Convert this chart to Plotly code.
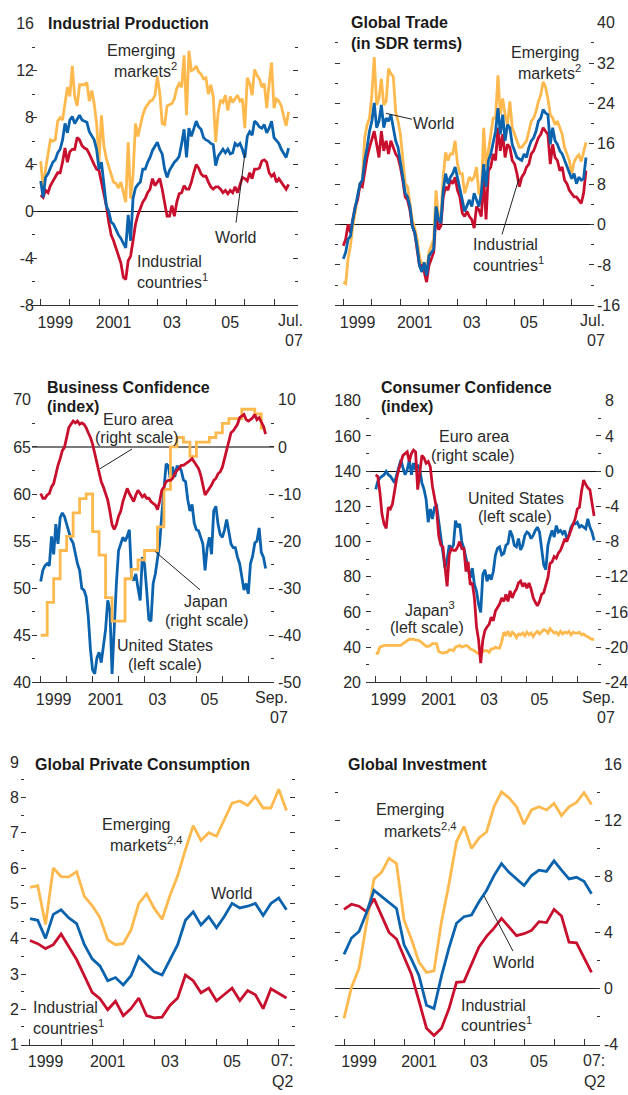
import plotly.graph_objects as go

W, H = 628, 1095
FONT = "Liberation Sans, Arial, Helvetica, sans-serif"
FS = 16
TXT = "#2a2a2a"
AXC = "#333333"
YEL = "#FDB94D"
BLU = "#0B63AE"
RED = "#C8102E"

# ---------------- Industrial production (monthly, Jan 1999 - Jul 2007)
ip_emerging = [4.3, 2.0, 3.6, 5.0, 6.1, 6.0, 6.1, 7.7, 8.0, 7.8, 9.2, 10.6,
               9.8, 12.4, 9.8, 9.0, 10.8, 10.8, 10.8, 11.0, 9.4, 10.3, 9.2, 7.5,
               4.2, 8.2, 5.6, 4.5, 3.8, 3.1, 2.5, 2.4, 2.0, 2.5, 1.7, 0.8,
               5.9, 1.1, 3.1, 7.5, 6.4, 7.3, 8.2, 8.8, 9.1, 9.4, 9.5, 9.9,
               11.5, 10.1, 7.5, 7.4, 9.0, 9.1, 9.2, 9.6, 10.5, 10.9, 10.6, 13.3,
               8.2, 13.7, 12.0, 12.1, 12.4, 11.9, 11.7, 11.3, 11.4, 10.0, 10.8, 9.8,
               5.9, 8.4, 9.5, 9.3, 9.9, 8.6, 9.8, 9.3, 9.6, 9.9, 9.4, 9.6,
               7.1, 11.4, 10.9, 9.9, 12.1, 11.6, 11.3, 10.6, 10.9, 8.8, 10.9, 12.7,
               8.8, 9.6, 9.4, 9.0, 8.1, 7.3, 8.5]
ip_world = [2.6, 1.2, 2.9, 3.2, 3.7, 4.2, 4.4, 5.0, 5.3, 6.1, 7.5, 6.7,
            7.8, 8.1, 7.5, 7.8, 8.2, 7.8, 7.7, 7.6, 6.8, 6.5, 6.1, 5.3,
            3.6, 4.2, 2.2, 0.5, 0.0, -0.9, -1.1, -1.6, -2.0, -2.3, -2.7, -3.1,
            -0.3, -2.5, 1.1, 2.0, 2.3, 2.5, 3.6, 3.6, 4.2, 4.6, 5.2, 5.6,
            5.9, 5.3, 4.9, 3.6, 2.9, 3.5, 3.9, 4.2, 4.4, 4.7, 5.8, 7.0,
            4.6, 7.1, 6.4, 7.0, 7.7, 7.2, 7.0, 6.3, 6.1, 6.0, 5.8, 5.7,
            3.9, 4.7, 5.0, 5.3, 5.0, 5.3, 4.9, 5.0, 5.8, 5.6, 5.8, 5.3,
            4.6, 6.4, 6.8, 6.5, 7.7, 7.5, 7.2, 7.1, 7.4, 6.7, 7.1, 7.7,
            6.3, 6.0, 5.8, 5.3, 5.0, 4.6, 5.4]
ip_industrial = [1.4, 1.2, 1.8, 1.6, 2.2, 2.6, 3.0, 3.3, 3.3, 4.2, 5.4, 4.2,
                 5.1, 5.3, 5.3, 6.3, 6.1, 5.6, 5.4, 5.3, 4.9, 4.4, 4.0, 3.6,
                 3.5, 2.5, 1.6, 0.5, -0.9, -2.0, -2.5, -3.1, -3.7, -4.4, -5.6, -5.8,
                 -4.2, -3.8, -2.5, -1.1, -0.3, 0.3, 0.8, 1.1, 1.6, 1.9, 2.8, 2.2,
                 2.5, 2.8, 1.9, 0.8, -0.4, -0.4, 0.5, -0.4, 0.8, 1.5, 1.6, 2.2,
                 1.9, 1.9, 2.5, 3.3, 4.0, 3.7, 3.2, 3.0, 3.0, 2.5, 2.1, 1.9,
                 2.1, 2.1, 1.9, 1.6, 1.8, 1.5, 1.8, 1.6, 2.1, 1.6, 2.2, 2.9,
                 2.8, 2.6, 3.3, 2.8, 3.6, 3.6, 3.7, 4.3, 4.4, 4.2, 3.3, 3.0,
                 3.2, 2.5, 2.8, 2.5, 2.2, 1.9, 2.3]

# ---------------- Global trade in SDR terms (monthly, Jan 1999 - Jul 2007)
tr_emerging = [-11.4, -11.7, -6.8, -4.2, -0.3, 2.3, 4.9, 8.1, 8.8, 17.2, 19.8, 21.1,
               25.7, 33.2, 23.7, 25.0, 28.9, 23.7, 24.4, 30.9, 29.9, 29.3, 22.4, 20.5,
               17.9, 12.7, 8.1, 7.5, 4.6, 1.0, -0.7, -2.9, -6.2, -8.1, -7.5, -9.4,
               -5.5, -4.2, -2.9, 6.8, 1.0, 1.6, 9.4, 14.3, 12.7, 14.0, 14.0, 16.6,
               12.0, 10.1, 10.1, 6.2, 8.1, 9.4, 8.8, 9.4, 11.4, 6.2, 5.5, 19.2,
               11.4, 14.6, 17.9, 21.1, 21.1, 29.6, 21.8, 25.0, 21.8, 19.8, 24.4, 19.2,
               17.9, 16.6, 15.3, 15.3, 15.9, 16.6, 18.5, 20.5, 21.1, 22.4, 24.4, 25.7,
               28.3, 27.3, 25.0, 21.8, 21.1, 19.8, 20.5, 19.2, 17.9, 15.3, 14.0, 12.7,
               10.1, 12.4, 13.3, 13.8, 12.5, 14.5, 16.3]
tr_world = [-6.8, -5.5, -2.9, -2.3, 1.0, 3.6, 5.5, 8.1, 8.8, 12.7, 15.3, 18.5,
            20.5, 24.1, 19.2, 20.5, 23.7, 19.2, 21.1, 20.5, 21.8, 19.2, 16.6, 15.3,
            12.7, 9.4, 6.2, 5.5, 3.6, -0.3, -1.6, -4.2, -8.1, -9.4, -7.5, -10.1,
            -6.2, -5.5, -4.9, 3.6, 1.0, 0.3, 6.8, 10.1, 8.1, 9.4, 10.1, 11.4,
            9.4, 7.5, 4.9, 2.6, 3.9, 4.9, 3.6, 6.2, 4.9, 3.6, 6.2, 12.0,
            7.5, 12.7, 14.0, 16.6, 18.5, 23.1, 17.9, 21.8, 16.6, 19.8, 19.2, 15.9,
            14.6, 13.3, 13.0, 12.7, 14.0, 13.3, 15.3, 16.6, 17.2, 18.5, 20.5, 21.1,
            22.8, 22.1, 21.8, 15.9, 19.2, 16.6, 15.9, 14.6, 14.0, 12.7, 11.4, 10.1,
            9.1, 10.1, 8.1, 9.4, 8.8, 9.1, 13.3]
tr_industrial = [-4.2, -2.9, 0.0, -1.6, 1.0, 3.6, 4.9, 7.8, 7.5, 10.7, 13.3, 15.3,
                 17.2, 18.5, 15.9, 13.3, 18.5, 14.6, 16.6, 14.0, 16.6, 15.3, 14.0, 13.3,
                 11.4, 8.8, 5.5, 4.9, 2.9, -0.3, -1.6, -4.9, -8.1, -8.1, -9.4, -11.4,
                 -8.1, -6.8, -5.5, 2.3, -1.0, -0.3, 5.5, 7.5, 6.8, 8.8, 8.1, 9.4,
                 6.8, 5.5, 2.3, 1.6, 2.6, 1.6, 1.0, -0.7, 3.6, 2.9, 1.6, 9.4,
                 1.0, 10.7, 11.4, 14.0, 12.7, 19.2, 14.6, 17.9, 13.3, 15.9, 15.3, 12.7,
                 12.0, 10.1, 7.5, 9.4, 10.1, 11.4, 12.0, 14.0, 14.6, 15.9, 17.2, 17.9,
                 19.2, 18.5, 17.9, 12.0, 15.9, 13.3, 12.7, 10.7, 11.4, 8.8, 8.1, 6.8,
                 6.2, 5.5, 5.5, 4.9, 4.2, 6.2, 10.7]

# ---------------- Business confidence (monthly, Jan 1999 - Sep 2007)
bc_euro = [-9.9, -10.9, -10.9, -10.2, -9.9, -8.5, -7.8, -5.7, -3.9, -2.5, -0.8, -0.1,
           2.0, 4.1, 4.8, 5.5, 5.1, 5.5, 4.8, 5.1, 4.8, 4.1, 3.0, 2.0,
           0.6, -1.5, -3.9, -5.7, -7.4, -8.5, -9.9, -11.3, -13.7, -16.5, -17.5, -16.5,
           -14.7, -13.7, -11.6, -10.2, -8.8, -9.9, -10.9, -11.6, -10.2, -9.2, -9.9, -10.6,
           -10.2, -10.9, -10.9, -11.6, -12.0, -12.3, -13.3, -11.6, -9.2, -8.5, -7.4, -7.1,
           -7.1, -6.7, -5.7, -5.0, -4.6, -3.9, -3.9, -3.6, -3.2, -2.9, -2.5, -3.2,
           -3.9, -4.6, -6.0, -7.8, -10.2, -9.5, -8.8, -8.1, -7.1, -6.7, -5.7, -5.3,
           -4.3, -2.5, -0.8, 1.6, 3.0, 3.4, 4.1, 4.8, 6.2, 6.5, 6.9, 5.8,
           5.5, 5.8, 6.2, 6.9, 5.8, 6.2, 5.1, 4.4, 2.7]
bc_us = [50.7, 51.9, 52.4, 52.6, 52.4, 55.5, 53.6, 56.8, 54.7, 57.5, 58.0, 57.6,
         56.8, 56.1, 55.2, 54.8, 53.6, 52.6, 51.9, 50.0, 49.8, 49.1, 47.0, 43.5,
         41.3, 40.9, 42.6, 43.2, 42.1, 44.2, 45.6, 48.7, 47.7, 40.9, 46.0, 50.5,
         54.0, 54.7, 55.4, 55.0, 55.5, 56.2, 51.2, 50.8, 51.5, 50.0, 48.7, 53.3,
         52.6, 49.8, 46.7, 46.5, 50.5, 51.5, 52.9, 54.7, 57.8, 60.2, 63.2, 63.0,
         61.5, 62.9, 61.8, 62.9, 62.9, 62.5, 61.5, 61.3, 59.4, 58.2, 58.9, 56.9,
         56.2, 56.1, 55.4, 54.7, 51.9, 54.3, 55.4, 53.6, 58.2, 58.7, 56.8, 55.7,
         55.4, 56.2, 57.3, 56.1, 54.7, 54.3, 54.3, 53.3, 52.6, 51.2, 49.8, 50.5,
         49.4, 52.6, 53.4, 54.8, 55.0, 56.4, 53.8, 53.3, 52.1]
# Japan Tankan (quarterly, 1999Q1 - 2007Q3)
bc_japan_q = [-40, -33, -28, -22, -19, -14, -11, -10, -18, -23, -32, -37,
              -37, -28, -26, -24, -22, -22, -17, -9, 0, 2, 1, -2,
              1, 1, 2, 3, 5, 6, 6, 8, 8, 7, 4]

# ---------------- Consumer confidence (monthly, Jan 1999 - Sep 2007)
cc_euro = [-0.4, -0.6, -2.4, -4.9, -6.0, -6.5, -4.1, -4.3, -3.7, -2.1, -0.8, 0.2,
           0.9, 1.8, 2.0, 2.2, 1.1, 2.0, 2.4, 2.2, -2.1, 0.2, 1.8, 1.5,
           0.9, 1.1, 0.5, -1.7, -2.8, -4.3, -7.3, -8.4, -8.6, -10.6, -13.1, -9.5,
           -8.8, -9.0, -9.0, -8.6, -8.0, -8.8, -8.8, -11.4, -10.3, -12.9, -12.7, -14.4,
           -17.7, -19.2, -21.8, -19.2, -18.1, -17.7, -17.4, -16.6, -17.0, -15.9, -15.5, -15.1,
           -14.4, -14.8, -14.0, -14.8, -13.6, -14.4, -13.8, -13.4, -12.7, -12.5, -13.1, -12.7,
           -13.3, -12.7, -13.4, -14.4, -14.9, -15.3, -14.8, -14.0, -13.8, -12.9, -12.1, -10.5,
           -10.3, -9.7, -9.9, -9.3, -9.0, -8.4, -7.7, -8.0, -7.3, -6.7, -6.0, -5.4,
           -4.3, -4.1, -2.3, -1.0, -1.5, -1.9, -2.1, -3.4, -5.1]
cc_us = [129.7, 134.3, 136.2, 137.1, 138.0, 139.9, 138.0, 137.1, 135.2, 133.4, 138.0, 141.8,
         146.4, 141.8, 138.0, 140.8, 146.4, 138.0, 144.6, 140.8, 143.6, 140.8, 133.4, 129.7,
         124.1, 111.0, 118.5, 112.9, 119.4, 120.3, 111.9, 101.7, 92.4, 84.9, 89.6, 97.9,
         96.1, 97.9, 111.9, 108.2, 110.1, 99.8, 96.1, 90.5, 83.0, 79.3, 84.9, 75.6,
         71.8, 64.4, 59.7, 81.2, 84.0, 77.4, 81.2, 78.4, 83.0, 92.4, 96.1, 97.0,
         92.4, 93.3, 97.9, 98.9, 106.3, 103.5, 97.9, 97.0, 101.7, 95.2, 97.9, 103.5,
         105.4, 104.5, 101.7, 103.5, 106.3, 108.2, 105.4, 95.2, 86.8, 84.0, 97.9, 102.6,
         106.3, 102.6, 109.1, 105.4, 106.3, 104.5, 106.3, 101.7, 103.5, 108.2, 110.1, 110.1,
         111.0, 108.2, 109.1, 108.2, 107.3, 112.9, 108.2, 105.4, 100.7]
cc_japan = [36.5, 36.5, 40.0, 40.5, 41.0, 41.0, 41.0, 41.0, 41.0, 41.0, 41.0, 41.0,
            41.0, 42.0, 43.0, 44.0, 44.5, 44.5, 44.5, 44.0, 44.0, 43.5, 42.5, 42.0,
            40.5, 40.5, 41.0, 42.0, 42.0, 42.0, 37.5, 37.0, 36.5, 37.0, 37.0, 38.5,
            38.5, 38.0, 40.0, 40.5, 41.0, 40.0, 40.5, 41.0, 40.5, 39.0, 38.5, 38.0,
            37.0, 36.5, 37.5, 37.5, 38.0, 38.0, 37.0, 39.0, 39.0, 40.0, 39.5, 39.5,
            43.0, 48.5, 47.0, 49.0, 46.0, 48.5, 47.5, 45.5, 47.5, 47.0, 48.0, 46.5,
            48.5, 47.0, 48.0, 46.0, 48.0, 49.0, 47.5, 48.5, 50.0, 49.5, 48.0, 50.5,
            49.5, 48.0, 48.5, 47.0, 49.0, 47.5, 48.5, 48.0, 49.0, 47.0, 48.5, 48.0,
            48.0, 48.5, 47.0, 47.5, 46.5, 46.0, 45.0, 44.5, 44.5]

# ---------------- Global private consumption (quarterly, 1999Q1 - 2007Q2)
pc_emerging = [5.45, 5.5, 4.4, 6.0, 5.76, 5.75, 5.9, 5.2, 4.94, 4.6, 3.97, 3.83,
               3.86, 4.25, 5.0, 5.27, 4.85, 4.55, 5.22, 5.78, 6.52, 7.2, 6.78, 7.0,
               6.9, 7.35, 7.84, 7.9, 7.77, 8.03, 7.7, 7.7, 8.23, 7.63]
pc_world = [4.57, 4.52, 4.01, 4.69, 4.82, 4.59, 4.43, 3.83, 3.43, 3.23, 2.81, 2.9,
            2.69, 2.95, 3.49, 3.27, 3.06, 2.97, 3.41, 3.83, 4.52, 4.76, 4.39, 4.62,
            4.31, 4.63, 5.0, 4.87, 4.92, 5.0, 4.66, 5.0, 5.15, 4.82]
pc_industrial = [3.95, 3.86, 3.72, 3.83, 4.13, 3.76, 3.41, 2.95, 2.48, 2.3, 1.99, 2.23,
                 1.82, 2.02, 2.32, 1.82, 1.76, 1.78, 2.11, 2.32, 2.97, 2.81, 2.47, 2.6,
                 2.24, 2.42, 2.6, 2.25, 2.53, 2.41, 2.02, 2.58, 2.44, 2.32]

# ---------------- Global investment (quarterly, 1999Q1 - 2007Q2)
inv_emerging = [-2.13, 0.09, 1.43, 4.65, 7.81, 8.28, 9.29, 8.91, 4.89, 3.49, 1.89, 1.15,
                1.26, 4.77, 7.46, 10.46, 11.56, 9.99, 10.74, 11.16, 12.96, 14.01, 13.59, 12.96,
                11.72, 12.73, 12.96, 12.73, 13.19, 12.33, 12.96, 13.26, 13.96, 13.12]
inv_world = [2.43, 3.6, 4.07, 5.4, 7.0, 6.57, 6.18, 5.71, 3.13, 2.08, 0.91, -1.19,
             -1.43, 0.9, 2.9, 4.65, 5.12, 5.24, 6.18, 6.99, 8.05, 8.91, 8.28, 7.81,
             7.34, 8.05, 8.44, 8.35, 9.1, 8.44, 7.81, 7.93, 7.65, 6.76]
inv_industrial = [5.64, 6.01, 5.87, 5.47, 6.41, 5.24, 4.0, 3.53, 2.32, 1.0, -0.9, -2.83,
                  -3.35, -2.83, -1.43, 0.44, 0.49, 1.73, 2.97, 3.72, 4.3, 5.0, 4.37, 3.77,
                  3.91, 4.14, 4.77, 4.7, 5.64, 5.17, 3.3, 3.25, 2.2, 1.15]

# ---------------- tick labels
year_tickvals = [1999.5, 2001.5, 2003.5, 2005.5]
year_ticktext = ["1999", "2001", "03", "05"]
year_bounds = [1999, 2000, 2001, 2002, 2003, 2004, 2005, 2006, 2007]


def monthly(vals):
    return [1999 + k / 12 for k in range(len(vals))]


def quarterly(vals):
    return [1999 + q / 4 for q in range(len(vals))]


def X(px):
    return px / W


def Y(py):
    return 1 - py / H


def steps(lo, hi, step):
    out, v = [], lo
    while v <= hi + 1e-9:
        out.append(round(v, 6))
        v += step
    return out


def fmt(v):
    s = f"{v:g}"
    return s  # plain hyphen-minus, as in the reference


panels = [
    dict(px=(32, 298), py=(16, 302), xr=(1998.702, 2007.823),
         left=dict(range=(-8, 16), dtick=4, minor=2, labels=True, so=-3),
         right=dict(range=(-8, 16), dtick=4, minor=2, labels=False, so=0),
         zero=("left", "#111111", 1)),
    dict(px=(335, 594), py=(15, 302), xr=(1998.709, 2007.781),
         left=dict(range=(-16, 40), dtick=8, minor=4, labels=False, so=0),
         right=dict(range=(-16, 40), dtick=8, minor=4, labels=True, so=2),
         zero=("right", "#111111", 1)),
    dict(px=(32, 274), py=(398, 685), xr=(1998.665, 2007.99),
         left=dict(range=(40, 70), dtick=5, minor=2.5, labels=True, so=0),
         right=dict(range=(-50, 10), dtick=10, minor=5, labels=True, so=3),
         zero=("right", "#7a7a7a", 1.5)),
    dict(px=(366, 601), py=(399, 685), xr=(1998.615, 2007.94),
         left=dict(range=(20, 180), dtick=20, minor=10, labels=True, so=4),
         right=dict(range=(-24, 8), dtick=4, minor=2, labels=True, so=3),
         zero=("right", "#111111", 1)),
    dict(px=(21, 295), py=(766, 1053), xr=(1998.711, 2007.524),
         left=dict(range=(1, 9), dtick=1, minor=0.5, labels=True, so=1),
         right=dict(range=(1, 9), dtick=1, minor=0.5, labels=False, so=0),
         zero=None),
    dict(px=(335, 600), py=(768, 1053), xr=(1998.7, 2007.533),
         left=dict(range=(-4, 16), dtick=4, minor=2, labels=False, so=0),
         right=dict(range=(-4, 16), dtick=4, minor=2, labels=True, so=3),
         zero=("right", "#222222", 1)),
]

tickfont = dict(family=FONT, size=FS, color=TXT)
layout = dict(width=W, height=H, margin=dict(l=0, r=0, t=0, b=0), autosize=False,
              paper_bgcolor="white", plot_bgcolor="white", showlegend=False,
              hovermode=False, font=dict(family=FONT, size=FS, color=TXT))

refs = []
for i, p in enumerate(panels, start=1):
    xkey = "xaxis" if i == 1 else f"xaxis{i}"
    xref = "x" if i == 1 else f"x{i}"
    li, ri = 2 * i - 1, 2 * i
    ylkey = "yaxis" if li == 1 else f"yaxis{li}"
    ylref = "y" if li == 1 else f"y{li}"
    yrkey = f"yaxis{ri}"
    yrref = f"y{ri}"
    refs.append((xref, ylref, yrref))
    layout[xkey] = dict(domain=[X(p["px"][0]), X(p["px"][1])], range=list(p["xr"]),
                        anchor=ylref, showgrid=False, zeroline=False,
                        showline=True, linecolor=AXC, linewidth=1,
                        tickmode="array", tickvals=year_tickvals, ticktext=year_ticktext,
                        ticks="", tickfont=tickfont, ticklabelstandoff=2,
                        minor=dict(tickmode="array", tickvals=year_bounds, ticks="inside",
                                   ticklen=6, tickcolor=AXC, tickwidth=1),
                        fixedrange=True)
    for key, side, spec, other in ((ylkey, "left", p["left"], None), (yrkey, "right", p["right"], ylref)):
        lo, hi = spec["range"]
        major = steps(lo, hi, spec["dtick"])
        minor_vals = [v for v in steps(lo, hi, spec["minor"]) if v not in major]
        ax = dict(range=[lo, hi], side=side, anchor=xref, showgrid=False,
                  showline=False, zeroline=False, ticks="inside", ticklen=5,
                  tickcolor=AXC, tickwidth=1, tickmode="array", tickvals=major,
                  ticktext=[fmt(v) for v in major],
                  minor=dict(tickmode="array", tickvals=minor_vals, ticks="inside",
                             ticklen=3, tickcolor=AXC, tickwidth=1),
                  showticklabels=spec["labels"], tickfont=tickfont,
                  ticklabelstandoff=spec["so"], fixedrange=True)
        if other is None:
            ax["domain"] = [Y(p["py"][1]), Y(p["py"][0])]
        else:
            ax["overlaying"] = other
        if p["zero"] is not None and p["zero"][0] == side:
            ax.update(zeroline=True, zerolinecolor=p["zero"][1], zerolinewidth=p["zero"][2])
        layout[key] = ax

fig = go.Figure()


def add(panel, xs, ys, color, side="left", shape="linear"):
    xref, ylref, yrref = refs[panel - 1]
    fig.add_trace(go.Scatter(x=xs, y=ys, mode="lines", xaxis=xref,
                             yaxis=ylref if side == "left" else yrref,
                             line=dict(color=color, width=2.8, shape=shape),
                             hoverinfo="skip", showlegend=False))


def placeholder(panel, side):
    xref, ylref, yrref = refs[panel - 1]
    fig.add_trace(go.Scatter(x=[], y=[], mode="lines", xaxis=xref,
                             yaxis=ylref if side == "left" else yrref,
                             hoverinfo="skip", showlegend=False))


# Panel 1
add(1, monthly(ip_emerging), ip_emerging, YEL)
add(1, monthly(ip_industrial), ip_industrial, RED)
add(1, monthly(ip_world), ip_world, BLU)
placeholder(1, "right")
# Panel 2
placeholder(2, "left")
add(2, monthly(tr_emerging), tr_emerging, YEL, "right")
add(2, monthly(tr_industrial), tr_industrial, RED, "right")
add(2, monthly(tr_world), tr_world, BLU, "right")
# Panel 3
jx = quarterly(bc_japan_q) + [monthly(bc_euro)[-1]]
jy = bc_japan_q + [bc_japan_q[-1]]
add(3, jx, jy, YEL, "right", shape="hv")
add(3, monthly(bc_euro), bc_euro, RED, "right")
add(3, monthly(bc_us), bc_us, BLU, "left")
# Panel 4
add(4, monthly(cc_japan), cc_japan, YEL, "left")
add(4, monthly(cc_us), cc_us, BLU, "left")
add(4, monthly(cc_euro), cc_euro, RED, "right")
# Panel 5
add(5, quarterly(pc_emerging), pc_emerging, YEL)
add(5, quarterly(pc_industrial), pc_industrial, RED)
add(5, quarterly(pc_world), pc_world, BLU)
placeholder(5, "right")
# Panel 6
placeholder(6, "left")
add(6, quarterly(inv_emerging), inv_emerging, YEL, "right")
add(6, quarterly(inv_industrial), inv_industrial, RED, "right")
add(6, quarterly(inv_world), inv_world, BLU, "right")

# ---------------- text labels (pixel positions of the reference layout)
labels = [
    # panel 1
    ("<b>Industrial Production</b>", 46, 16, "left", "#1a1a1a"),
    ("Emerging", 141, 43, "center", TXT), ("markets<sup>2</sup>", 145, 63, "center", TXT),
    ("World", 236, 233, "center", TXT),
    ("Industrial", 135, 258, "left", TXT), ("countries<sup>1</sup>", 135, 277, "left", TXT),
    ("Jul.", 305, 317, "right", TXT), ("07", 305, 338, "right", TXT),
    # panel 2
    ("<b>Global Trade</b>", 349, 15, "left", "#1a1a1a"),
    ("<b>(in SDR terms)</b>", 349, 36, "left", "#1a1a1a"),
    ("Emerging", 545, 45, "center", TXT), ("markets<sup>2</sup>", 549, 65, "center", TXT),
    ("World", 434, 117, "center", TXT),
    ("Industrial", 471, 240, "left", TXT), ("countries<sup>1</sup>", 471, 260, "left", TXT),
    ("Jul.", 607, 317, "right", TXT), ("07", 607, 338, "right", TXT),
    # panel 3
    ("<b>Business Confidence</b>", 45, 385, "left", "#1a1a1a"),
    ("<b>(index)</b>", 45, 405, "left", "#1a1a1a"),
    ("Euro area", 138, 418, "center", TXT), ("(right scale)", 137, 436, "center", TXT),
    ("Japan", 206, 603, "center", TXT), ("(right scale)", 207, 622, "center", TXT),
    ("United States", 165, 648, "center", TXT), ("(left scale)", 165, 667, "center", TXT),
    ("Sep.", 290, 700, "right", TXT), ("07", 290, 721, "right", TXT),
    # panel 4
    ("<b>Consumer Confidence</b>", 379, 385, "left", "#1a1a1a"),
    ("<b>(index)</b>", 379, 405, "left", "#1a1a1a"),
    ("Euro area", 474, 435, "center", TXT), ("(right scale)", 473, 455, "center", TXT),
    ("United States", 516, 498, "center", TXT), ("(left scale)", 515, 517, "center", TXT),
    ("Japan<sup>3</sup>", 430, 610, "center", TXT), ("(left scale)", 427, 629, "center", TXT),
    ("Sep.", 617, 700, "right", TXT), ("07", 617, 721, "right", TXT),
    # panel 5
    ("<b>Global Private Consumption</b>", 33, 768, "left", "#1a1a1a"),
    ("Emerging", 136, 829, "center", TXT), ("markets<sup>2,4</sup>", 146, 849, "center", TXT),
    ("World", 232, 899, "center", TXT),
    ("Industrial", 31, 1015, "left", TXT), ("countries<sup>1</sup>", 31, 1035, "left", TXT),
    ("07:", 295, 1069, "right", TXT), ("Q2", 295, 1090, "right", TXT),
    # panel 6
    ("<b>Global Investment</b>", 346, 768, "left", "#1a1a1a"),
    ("Emerging", 410, 814, "center", TXT), ("markets<sup>2,4</sup>", 420, 835, "center", TXT),
    ("World", 514, 970, "center", TXT),
    ("Industrial", 459, 1013, "left", TXT), ("countries<sup>1</sup>", 459, 1032, "left", TXT),
    ("07:", 607, 1069, "right", TXT), ("Q2", 607, 1090, "right", TXT),
]
annotations = []
for text, px, py, anchor, col in labels:
    annotations.append(dict(text=text, x=X(px), y=Y(py), xref="paper", yref="paper",
                            xanchor=anchor, yanchor="middle", showarrow=False,
                            font=dict(family=FONT, size=FS, color=col)))

leaders = [((236, 218), (245, 147)), ((412, 113), (386, 107)), ((502, 230), (519, 173)),
           ((132, 448), (100, 468)), ((200, 591), (155, 552)), ((513, 958), (484, 902))]
shapes = []
for (ax0, ay0), (ax1, ay1) in leaders:
    shapes.append(dict(type="line", xref="paper", yref="paper", x0=X(ax0), y0=Y(ay0),
                       x1=X(ax1), y1=Y(ay1), line=dict(color="#222222", width=1)))

layout["annotations"] = annotations
layout["shapes"] = shapes
fig.update_layout(**layout)
fig.write_html(
    "out.html",
    config={"displayModeBar": False},
    post_script=("document.documentElement.style.margin='0';"
                 "document.body.style.margin='0';"
                 "document.body.style.padding='0';"
                 "document.documentElement.style.overflow='hidden';"
                 "document.body.style.overflow='hidden';"
                 "var gd=document.getElementById('{plot_id}');"
                 "gd.style.position='fixed';gd.style.left='0px';gd.style.top='0px';"),
)
